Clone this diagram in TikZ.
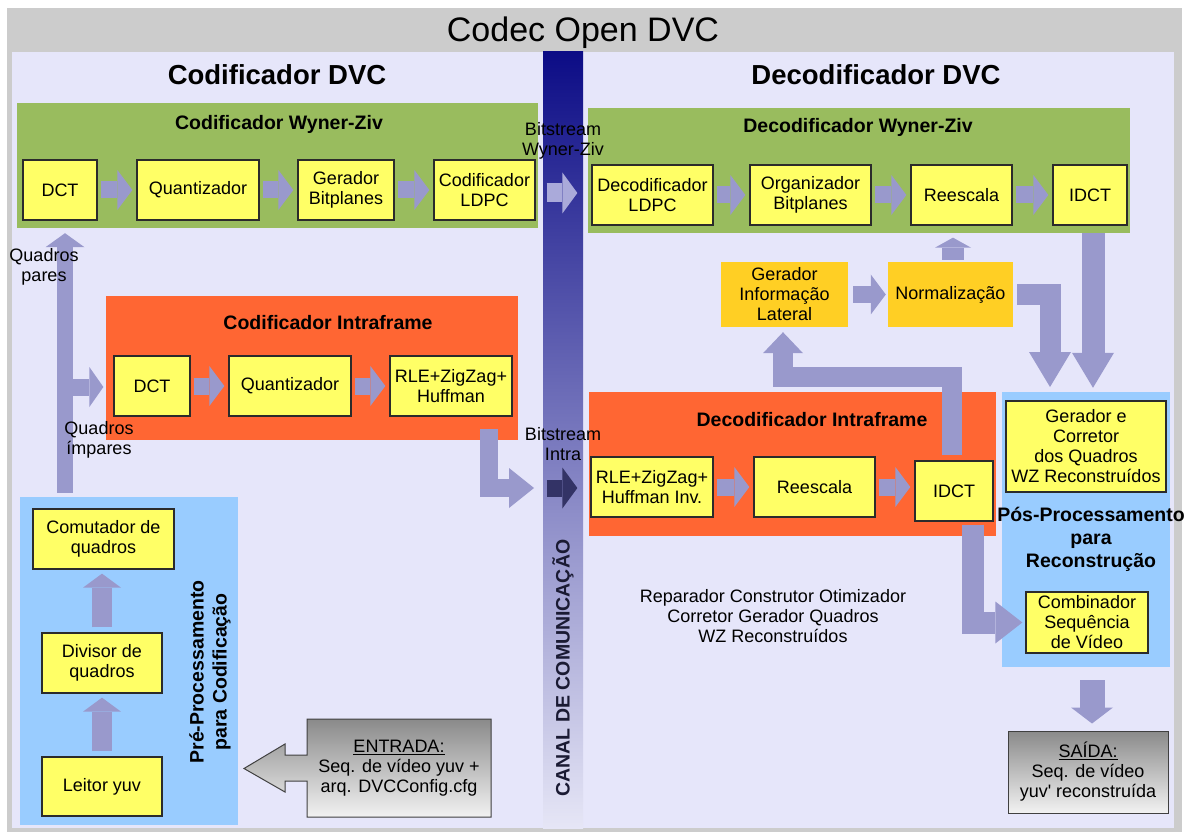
\documentclass[tikz,border=0pt]{standalone}
\usepackage{fontspec}
\setmainfont{Liberation Sans}
\usetikzlibrary{arrows.meta}

\definecolor{framegray}{HTML}{CCCCCC}
\definecolor{lav}{HTML}{E6E6FA}
\definecolor{wzgreen}{HTML}{99BC5E}
\definecolor{intraor}{HTML}{FF6633}
\definecolor{procblue}{HTML}{99CCFF}
\definecolor{boxyel}{HTML}{FFFF66}
\definecolor{boxline}{HTML}{2B2B2B}
\definecolor{sideor}{HTML}{FFCF24}
\definecolor{arrowc}{HTML}{9999CC}
\definecolor{chanlight}{HTML}{AAAADA}
\definecolor{chandark}{HTML}{333366}
\definecolor{chantop}{HTML}{0C0C86}
\definecolor{chanbot}{HTML}{E6E6F6}
\definecolor{chantext}{HTML}{1A1A33}
\definecolor{iotop}{HTML}{8A8A8A}
\definecolor{iobot}{HTML}{F2F2F2}
\definecolor{ioline}{HTML}{404040}

\newcommand\bxfont{\fontsize{18}{20}\selectfont}
\newcommand\hdfont{\bfseries\fontsize{19.5}{23}\selectfont}

\tikzset{
  ybox/.style={draw=boxline, line width=1.3pt, fill=boxyel, align=center, inner sep=0pt, font=\bxfont},
  sidebox/.style={fill=sideor, align=center, inner sep=0pt, font=\bxfont},
  region/.style={inner sep=0pt, draw=none},
  hd/.style={font=\hdfont, align=center, inner sep=0pt},
  bighd/.style={font=\bfseries\fontsize{27.5}{32}\selectfont, inner sep=0pt},
  lbl/.style={font=\bxfont, align=center, inner sep=0pt},
  iobox/.style={draw=ioline, line width=1pt, top color=iotop, bottom color=iobot, align=center, inner sep=0pt, font=\bxfont},
  fatarrow/.style n args={4}{draw=#4, line width=#1, line join=miter,
    -{Triangle[length=#2,width=#3,line width=0pt]}},
  flow/.style={fatarrow={17pt}{15pt}{40pt}{arrowc}, shorten <=3pt, shorten >=4pt},
  bigflow/.style={fatarrow={23pt}{35pt}{42pt}{arrowc}},
}

\begin{document}
\begin{tikzpicture}[x=1pt,y=-1pt]
\useasboundingbox (0,0) rectangle (1186,834);
\fill[white] (0,0) rectangle (1186,834);
\fill[framegray] (7,8) rectangle (1182,832);
\fill[lav] (12,52) rectangle (1174,828);

% communication channel
\node[region, top color=chantop, bottom color=chanbot, minimum width=40pt, minimum height=776pt] (chan) at (563,440) {};
\node[hd, text=chantext, rotate=90] (chant) at (563,668) {CANAL DE COMUNICAÇÃO};

% titles
\node[font=\fontsize{34}{40}\selectfont, inner sep=0pt] (title) at (583,33) {Codec Open DVC};
\node[bighd] (enchead) at (277,75) {Codificador DVC};
\node[bighd] (dechead) at (876,75) {Decodificador DVC};

% ---------------- encoder ----------------
\node[region, fill=wzgreen, minimum width=521pt, minimum height=125pt] (wzenc) at (277.5,165.5) {};
\node[hd] (wzenct) at (279,124) {Codificador Wyner-Ziv};
\node[ybox, minimum width=74pt, minimum height=60pt] (edct) at (60,190) {DCT};
\node[ybox, minimum width=122pt, minimum height=60pt] (equant) at (198,190) {Quantizador};
\node[ybox, minimum width=96pt, minimum height=60pt] (egbp) at (346,190) {Gerador\\Bitplanes};
\node[ybox, minimum width=101pt, minimum height=60pt] (eldpc) at (484.5,190) {Codificador\\LDPC};
\draw[flow] (edct) -- (equant);
\draw[flow] (equant) -- (egbp);
\draw[flow] (egbp) -- (eldpc);

\node[region, fill=intraor, minimum width=412pt, minimum height=144pt] (intraenc) at (312,368) {};
\node[hd] (intraenct) at (328,323) {Codificador Intraframe};
\node[ybox, minimum width=76pt, minimum height=60pt] (idct) at (152,386) {DCT};
\node[ybox, minimum width=122pt, minimum height=60pt] (iquant) at (290,386) {Quantizador};
\node[ybox, minimum width=122pt, minimum height=60pt] (ihuf) at (451,386) {RLE+ZigZag+\\Huffman};
\draw[flow] (idct) -- (iquant);
\draw[flow] (iquant) -- (ihuf);

\node[region, fill=procblue, minimum width=218pt, minimum height=328pt] (preproc) at (129,661) {};
\node[ybox, minimum width=141pt, minimum height=60pt] (comut) at (103.5,539) {Comutador de\\quadros};
\node[ybox, minimum width=120pt, minimum height=60pt] (divis) at (102,663) {Divisor de\\quadros};
\node[ybox, minimum width=120pt, minimum height=59pt] (leitor) at (102,786.5) {Leitor yuv};
\node[hd, rotate=90] (pret) at (210,672) {Pré-Processamento\\para Codificação};
\draw[fatarrow={20pt}{14pt}{38pt}{arrowc}, shorten <=5pt, shorten >=4pt] (leitor.north) -- (leitor.north |- divis.south);
\draw[fatarrow={20pt}{14pt}{38pt}{arrowc}, shorten <=5pt, shorten >=4pt] (divis.north) -- (divis.north |- comut.south);

% frame split: even frames to Wyner-Ziv, odd frames to intra
\coordinate (qx) at (65,0);
\coordinate (qsplit) at (65,387);
\draw[fatarrow={16pt}{14pt}{39pt}{arrowc}, shorten <=4pt, shorten >=5pt] (preproc.north -| qx) -- (wzenc.south -| qx);
\draw[fatarrow={17pt}{14pt}{40pt}{arrowc}, shorten >=10pt] (qsplit) -- (qsplit -| idct.west);
\node[lbl] (qpares) at (44,267) {Quadros\\pares};
\node[lbl] (qimp) at (99,440) {Quadros\\ímpares};

% input
\path[draw=ioline, line width=1pt, top color=iotop, bottom color=iobot]
  (307,719) -- (491,719) -- (491,817) -- (307,817) -- (307,781) -- (285,781)
  -- (285,792) -- (244,768.5) -- (285,744) -- (285,755) -- (307,755) -- cycle;
\node[lbl] (entrada) at (399,768) {\underline{ENTRADA:}\\Seq. de vídeo yuv +\\arq. DVCConfig.cfg};

% intra bitstream leaving the encoder
\coordinate (wzlevel) at (0,193);
\coordinate (bsintra) at (543,488);
\draw[fatarrow={18pt}{25pt}{40pt}{arrowc}, shorten >=9pt] ([xshift=38pt,yshift=-12pt]ihuf.south) |- (bsintra);

% ---------------- decoder ----------------
\node[region, fill=wzgreen, minimum width=542pt, minimum height=125pt] (wzdec) at (859,170.5) {};
\node[hd] (wzdect) at (858,127) {Decodificador Wyner-Ziv};
\node[ybox, minimum width=121pt, minimum height=60pt] (dldpc) at (652.5,195) {Decodificador\\LDPC};
\node[ybox, minimum width=121pt, minimum height=60pt] (dorg) at (810.5,195) {Organizador\\Bitplanes};
\node[ybox, minimum width=101pt, minimum height=60pt] (dresc) at (961.5,195) {Reescala};
\node[ybox, minimum width=74pt, minimum height=60pt] (didct) at (1090,195) {IDCT};
\draw[flow] (dldpc) -- (dorg);
\draw[flow] (dorg) -- (dresc);
\draw[flow] (dresc) -- (didct);

\draw[fatarrow={19pt}{15pt}{41pt}{chanlight}, shorten <=11pt, shorten >=14pt] (eldpc.east |- wzlevel) -- (dldpc.west |- wzlevel);

\node[sidebox, minimum width=127pt, minimum height=65pt] (gil) at (784.5,294.5) {Gerador\\Informação\\Lateral};
\node[sidebox, minimum width=125pt, minimum height=65pt] (norm) at (950.5,294.5) {Normalização};
\draw[flow, shorten <=5pt, shorten >=2pt] (gil) -- (norm);
\draw[fatarrow={22pt}{10pt}{36pt}{arrowc}, shorten <=2pt, shorten >=12pt] ([xshift=2.5pt]norm.north) -- ([xshift=2.5pt]norm.north |- dresc.south);

\node[region, fill=intraor, minimum width=407pt, minimum height=144pt] (intradec) at (792.5,464) {};
\node[hd] (intradect) at (812,420) {Decodificador Intraframe};
\node[ybox, minimum width=122pt, minimum height=60pt] (dhuf) at (652,487) {RLE+ZigZag+\\Huffman Inv.};
\node[ybox, minimum width=121pt, minimum height=60pt] (dresc2) at (814.5,487) {Reescala};
\node[ybox, minimum width=78pt, minimum height=60pt] (didct2) at (954,491) {IDCT};
\draw[flow] (dhuf) -- (dresc2);
\draw[flow] (dresc2.east) -- (dresc2.east -| didct2.west);

\draw[fatarrow={17pt}{15pt}{41pt}{chandark}, shorten <=4pt, shorten >=13pt] (chan.west |- bsintra) -- (dhuf.west |- bsintra);

% side information feedback from the intra IDCT
\coordinate (fbk) at (783,377);
\draw[fatarrow={20pt}{21pt}{40pt}{arrowc}, shorten >=5pt] ([xshift=-2pt,yshift=5pt]didct2.north) |- (fbk) -- (fbk |- gil.south);

% post-processing
\node[region, fill=procblue, minimum width=168pt, minimum height=275pt] (postproc) at (1086,529.5) {};
\node[ybox, minimum width=160pt, minimum height=91pt] (gcq) at (1086,446.5) {Gerador e\\Corretor\\dos Quadros\\WZ Reconstruídos};
\node[hd] (postt) at (1091,539) {Pós-Processamento\\para\\Reconstrução};
\node[ybox, minimum width=122pt, minimum height=61pt] (comb) at (1087,622.5) {Combinador\\Sequência\\de Vídeo};

\coordinate (nrmdown) at (1050,392);
\draw[bigflow, line width=21pt, shorten <=4pt, shorten >=5pt] (norm.east) -| (nrmdown);
\draw[bigflow, shorten >=4pt] ([xshift=3pt]didct.south |- wzdec.south) -- ([xshift=3pt]didct.south |- postproc.north);
\draw[fatarrow={22pt}{27pt}{42pt}{arrowc}, shorten >=3pt] ([xshift=19pt,yshift=-3pt]didct2.south) |- (comb.west);

\node[lbl] (rep) at (773,616) {Reparador Construtor Otimizador\\Corretor Gerador Quadros\\WZ Reconstruídos};

% output
\node[iobox, minimum width=160pt, minimum height=82pt] (saida) at (1088,772) {\underline{SAÍDA:}\\Seq. de vídeo\\yuv\textquotesingle{} reconstruída};
\draw[fatarrow={25pt}{16pt}{42pt}{arrowc}, shorten <=13pt, shorten >=7pt] ([xshift=6pt]postproc.south) -- ([xshift=6pt]postproc.south |- saida.north);

% bitstream labels sit on top of the channel and the boxes
\node[lbl] (bswz) at (563,141) {Bitstream\\Wyner-Ziv};
\node[lbl] (bsin) at (563,444) {Bitstream\\Intra};
\end{tikzpicture}
\end{document}
